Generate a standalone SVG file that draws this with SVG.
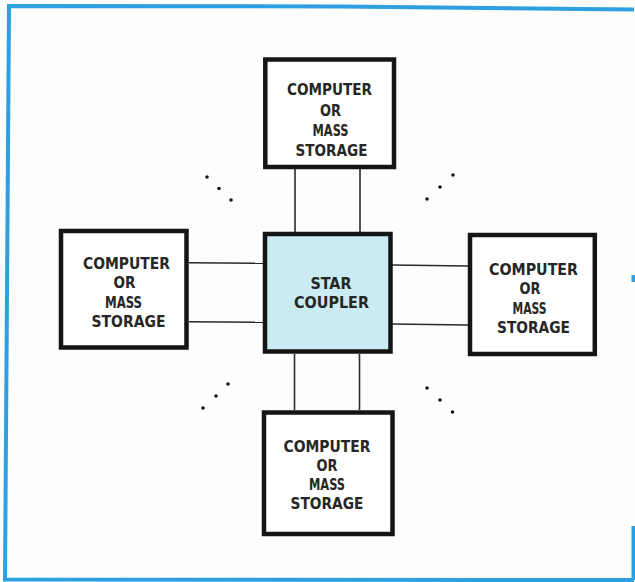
<svg xmlns="http://www.w3.org/2000/svg" width="635" height="582" viewBox="0 0 635 582">
<style>
.box{fill:#ffffff;stroke:#151515;stroke-width:4.5}
.hub{fill:#c9ebf1;stroke:#151515;stroke-width:4.5}
.t{font-family:"DejaVu Sans Condensed","DejaVu Sans","Liberation Sans",sans-serif;font-stretch:condensed;font-weight:bold;font-size:16.5px;fill:#262626;text-anchor:middle}
.c{stroke:#2a2a2a;stroke-width:1.6;fill:none}
.frame{stroke:#2e9fe0;stroke-width:4;fill:none}
.dot{fill:#151515}
</style>
<rect width="635" height="582" fill="#fdfdfb"/>
<path class="frame" d="M634,9.5 L340,6.5 L9,6 L5,579.5 L634,580"/>
<path class="frame" d="M633.5,526 L633.5,580 M633.5,275 L633.5,282"/>
<g id="connectors">
<line class="c" x1="295" y1="169" x2="295" y2="232"/>
<line class="c" x1="360" y1="169" x2="360" y2="232"/>
<line class="c" x1="294.5" y1="354" x2="294.5" y2="410"/>
<line class="c" x1="359.5" y1="354" x2="359.5" y2="410"/>
<line class="c" x1="189" y1="262.7" x2="263" y2="263.3"/>
<line class="c" x1="189" y1="321.7" x2="263" y2="322.3"/>
<line class="c" x1="392" y1="265" x2="468" y2="266"/>
<line class="c" x1="392" y1="324" x2="468" y2="325"/>
</g>
<g id="dots">
<circle class="dot" cx="207" cy="177" r="1.8"/>
<circle class="dot" cx="219" cy="188.5" r="1.8"/>
<circle class="dot" cx="231" cy="200" r="1.8"/>
<circle class="dot" cx="453" cy="175" r="1.8"/>
<circle class="dot" cx="440" cy="187" r="1.8"/>
<circle class="dot" cx="427" cy="199" r="1.8"/>
<circle class="dot" cx="228" cy="384" r="1.8"/>
<circle class="dot" cx="216" cy="396" r="1.8"/>
<circle class="dot" cx="203" cy="408" r="1.8"/>
<circle class="dot" cx="427" cy="388" r="1.8"/>
<circle class="dot" cx="440" cy="400" r="1.8"/>
<circle class="dot" cx="452.5" cy="412" r="1.8"/>
</g>
<g id="node-top">
<rect class="box" x="265.3" y="59.5" width="128.7" height="107.5"/>
<text class="t" x="329.5" y="95" textLength="85" lengthAdjust="spacingAndGlyphs">COMPUTER</text>
<text class="t" x="330.5" y="115.5" textLength="21" lengthAdjust="spacingAndGlyphs">OR</text>
<text class="t" x="330.5" y="135.5" textLength="36" lengthAdjust="spacingAndGlyphs">MASS</text>
<text class="t" x="331.5" y="156" textLength="72" lengthAdjust="spacingAndGlyphs">STORAGE</text>
</g>
<g id="node-hub">
<rect class="hub" x="265" y="234" width="125.5" height="117.5"/>
<text class="t" x="331" y="288.5" textLength="41" lengthAdjust="spacingAndGlyphs">STAR</text>
<text class="t" x="331.5" y="307.5" textLength="75" lengthAdjust="spacingAndGlyphs">COUPLER</text>
</g>
<g id="node-left">
<rect class="box" x="61" y="231" width="125.5" height="116.5"/>
<text class="t" x="126.5" y="268.5" textLength="87" lengthAdjust="spacingAndGlyphs">COMPUTER</text>
<text class="t" x="124.5" y="288" textLength="22" lengthAdjust="spacingAndGlyphs">OR</text>
<text class="t" x="123.5" y="307.5" textLength="37" lengthAdjust="spacingAndGlyphs">MASS</text>
<text class="t" x="128.5" y="327" textLength="74" lengthAdjust="spacingAndGlyphs">STORAGE</text>
</g>
<g id="node-right">
<rect class="box" x="470" y="235" width="124.8" height="119"/>
<text class="t" x="533.5" y="275" textLength="89" lengthAdjust="spacingAndGlyphs">COMPUTER</text>
<text class="t" x="530" y="294" textLength="21" lengthAdjust="spacingAndGlyphs">OR</text>
<text class="t" x="529.5" y="313.5" textLength="34" lengthAdjust="spacingAndGlyphs">MASS</text>
<text class="t" x="533.5" y="333" textLength="73" lengthAdjust="spacingAndGlyphs">STORAGE</text>
</g>
<g id="node-bottom">
<rect class="box" x="264" y="412.5" width="128.5" height="121.5"/>
<text class="t" x="327" y="451.5" textLength="87" lengthAdjust="spacingAndGlyphs">COMPUTER</text>
<text class="t" x="327" y="470.5" textLength="21" lengthAdjust="spacingAndGlyphs">OR</text>
<text class="t" x="327" y="489.5" textLength="36" lengthAdjust="spacingAndGlyphs">MASS</text>
<text class="t" x="327" y="508.5" textLength="73" lengthAdjust="spacingAndGlyphs">STORAGE</text>
</g>
</svg>
